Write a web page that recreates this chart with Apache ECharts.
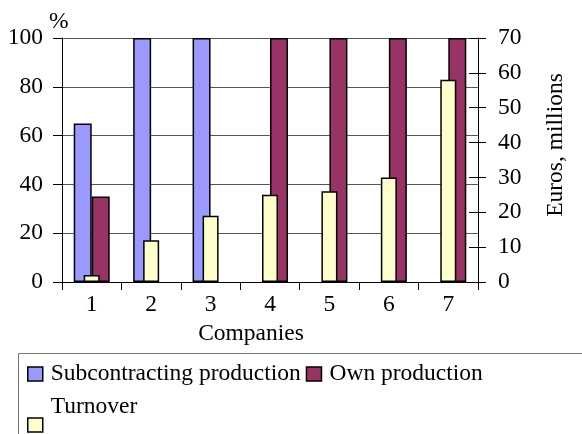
<!DOCTYPE html>
<html>
<head>
<meta charset="utf-8">
<script src="https://cdn.jsdelivr.net/npm/echarts@6/dist/echarts.min.js"></script>
<style>
html,body{margin:0;padding:0;background:#fff;}
#chart{width:582px;height:434px;}
</style>
</head>
<body>
<div id="chart"></div>
<script>
var categories = ['1', '2', '3', '4', '5', '6', '7'];
var subcontracting = [65, 100, 100, 0, 0, 0, 0];
var ownProduction = [35, 0, 0, 100, 100, 100, 100];
var turnover = [2, 12, 19, 25, 26, 30, 58];
var leftTicks = [0, 20, 40, 60, 80, 100];
var rightTicks = [0, 10, 20, 30, 40, 50, 60, 70];

function noZero(arr) { return arr.map(function (v) { return v === 0 ? '-' : v; }); }

var FONT = '"Liberation Serif", "Times New Roman", serif';
var FS = 23.5;
var chart = echarts.init(document.getElementById('chart'), null, { renderer: 'canvas' });
var option = {
  backgroundColor: '#ffffff',
  animation: false,
  textStyle: { fontFamily: FONT, color: '#000' },
  grid: { left: 62, right: 104, top: 38, bottom: 152, containLabel: false },
  graphic: [
    { type: 'rect', shape: { x: 18.5, y: 353.5, width: 600, height: 120 }, style: { fill: 'none', stroke: '#777', lineWidth: 1 }, silent: true, z: 0 },
    { type: 'text', left: 49, top: 10, style: { text: '%', font: FS + 'px ' + FONT, fill: '#000' } },
    { type: 'text', x: 556, y: 145, rotation: Math.PI / 2, style: { text: 'Euros, millions', font: FS + 'px ' + FONT, fill: '#000', align: 'center', verticalAlign: 'middle' } }
  ],
  legend: [
    {
      left: 27, top: 362, padding: 0,
      itemWidth: 15, itemHeight: 14, itemGap: 5,
      icon: 'rect',
      itemStyle: { borderColor: '#000', borderWidth: 1.5 },
      textStyle: { fontFamily: FONT, fontSize: FS, color: '#000', padding: [0, 0, 0, 3] },
      data: ['Subcontracting production', 'Own production']
    },
    {
      left: 27, top: 395, padding: 0,
      itemWidth: 15, itemHeight: 14,
      icon: 'rect',
      itemStyle: { borderColor: '#000', borderWidth: 1.5 },
      formatter: function (name) { return '{t|' + name + '}'; },
      textStyle: {
        fontFamily: FONT, fontSize: FS, color: '#000',
        rich: { t: { fontFamily: FONT, fontSize: FS, color: '#000', padding: [0, 0, 36, 3] } }
      },
      data: ['Turnover']
    }
  ],
  xAxis: [
    {
      type: 'category', data: categories, position: 'bottom',
      name: 'Companies', nameLocation: 'middle', nameGap: 34,
      nameTextStyle: { fontFamily: FONT, fontSize: FS, color: '#000', padding: [0, 38, 0, 0] },
      axisLine: { show: true, lineStyle: { color: '#000', width: 1 } },
      axisTick: { show: true, alignWithLabel: false, length: 8, lineStyle: { color: '#000' } },
      axisLabel: { fontFamily: FONT, fontSize: FS, color: '#000', margin: 11 },
      splitLine: { show: false }
    },
    {
      type: 'category', data: categories, position: 'bottom', show: false
    }
  ],
  yAxis: [
    {
      type: 'value', min: 0, max: 100, interval: 20, position: 'left',
      axisLine: { show: true, lineStyle: { color: '#000', width: 1 } },
      axisTick: { show: true, length: 9, lineStyle: { color: '#000' } },
      axisLabel: { fontFamily: FONT, fontSize: FS, color: '#000', margin: 19 },
      splitLine: { show: true, lineStyle: { color: '#555', width: 1 } }
    },
    {
      type: 'value', min: 0, max: 70, interval: 10, position: 'right',
      axisLine: { show: true, lineStyle: { color: '#000', width: 1 } },
      axisTick: { show: true, length: 8, lineStyle: { color: '#000' } },
      axisLabel: { fontFamily: FONT, fontSize: FS, color: '#000', margin: 20 },
      splitLine: { show: false }
    },
    {
      type: 'value', min: 0, max: 70, interval: 10, position: 'right',
      axisLine: { show: false },
      axisTick: { show: true, inside: true, length: 9, lineStyle: { color: '#000' } },
      axisLabel: { show: false },
      splitLine: { show: false }
    }
  ],
  series: [
    {
      name: 'Subcontracting production', type: 'bar', xAxisIndex: 0, yAxisIndex: 0,
      data: noZero(subcontracting), barWidth: 18, barGap: '0%',
      itemStyle: { color: '#9999FF', borderColor: '#000', borderWidth: 1.5 }, z: 2
    },
    {
      name: 'Own production', type: 'bar', xAxisIndex: 0, yAxisIndex: 0,
      data: noZero(ownProduction), barWidth: 18, barGap: '0%',
      itemStyle: { color: '#993366', borderColor: '#000', borderWidth: 1.5 }, z: 2
    },
    {
      name: 'Turnover', type: 'bar', xAxisIndex: 1, yAxisIndex: 1,
      data: noZero(turnover), barWidth: 16,
      itemStyle: { color: '#FFFFCC', borderColor: '#000', borderWidth: 1.5 }, z: 3
    }
  ]
};
chart.setOption(option);
</script>
</body>
</html>
